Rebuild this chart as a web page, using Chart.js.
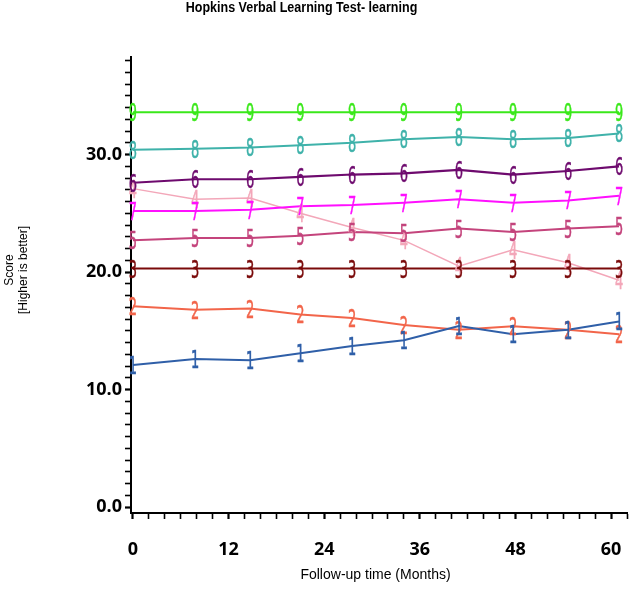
<!DOCTYPE html>
<html>
<head>
<meta charset="utf-8">
<script src="https://cdn.jsdelivr.net/npm/chart.js@4"></script>
<style>
html,body{margin:0;padding:0;background:#fff;}
#wrap{width:631px;height:599px;position:relative;}
</style>
</head>
<body>
<div id="wrap"><canvas id="c" width="631" height="599"></canvas></div>
<script>
// ---- data ----
const months = [0, 7.8, 14.7, 21, 27.5, 34, 40.9, 47.7, 54.6, 61];
const groupLabels = ['1','2','3','4','5','6','7','8','9'];
const s1 = [12.1, 12.6, 12.5, 13.1, 13.7, 14.2, 15.4, 14.7, 15.1, 15.8];
const s2 = [17.1, 16.8, 16.9, 16.4, 16.1, 15.5, 15.1, 15.4, 15.1, 14.7];
const s3 = [20.3, 20.3, 20.3, 20.3, 20.3, 20.3, 20.3, 20.3, 20.3, 20.3];
const s4 = [27.1, 26.2, 26.3, 25.0, 23.8, 22.7, 20.5, 21.9, 20.8, 19.3];
const s5 = [22.7, 22.9, 22.9, 23.1, 23.4, 23.3, 23.7, 23.4, 23.7, 23.9];
const s6 = [27.6, 27.9, 27.9, 28.1, 28.3, 28.4, 28.7, 28.3, 28.6, 29.0];
const s7 = [25.2, 25.2, 25.3, 25.6, 25.7, 25.9, 26.2, 25.9, 26.1, 26.5];
const s8 = [30.4, 30.5, 30.6, 30.8, 31.0, 31.3, 31.5, 31.3, 31.4, 31.8];
const s9 = [33.6, 33.6, 33.6, 33.6, 33.6, 33.6, 33.6, 33.6, 33.6, 33.6];
const titleText = 'Hopkins Verbal Learning Test- learning';
const yTitle = ['Score', '[Higher is better]'];
const xTitle = 'Follow-up time (Months)';

const seriesList = [s1, s2, s3, s4, s5, s6, s7, s8, s9];
const colors = ['#2f5fa8', '#f2654a', '#7a0a0a', '#f3a7b9', '#c4447c', '#6e0a6e', '#ff10ff', '#3fb2aa', '#3ae81a'];
const widths = [2, 2, 2, 1.5, 2, 2.2, 2, 2, 2];
// draw order: pink '4' beneath all
const drawOrder = [0, 1, 2, 4, 5, 6, 7, 8, 3];

const datasets = drawOrder.map(i => ({
  label: groupLabels[i],
  data: months.map((m, k) => ({x: m, y: seriesList[i][k]})),
  borderColor: colors[i],
  backgroundColor: colors[i],
  borderWidth: widths[i],
  pointRadius: 0,
  pointHoverRadius: 0,
  tension: 0,
  fill: false,
  clip: false
}));

const markerPlugin = {
  id: 'markers',
  afterDatasetsDraw(chart) {
    const ctx = chart.ctx;
    const metas = chart.getSortedVisibleDatasetMetas();
    for (let d = metas.length - 1; d >= 0; d--) {
      const meta = metas[d];
      const ds = chart.data.datasets[meta.index];
      ctx.save();
      ctx.fillStyle = ds.borderColor;
      ctx.strokeStyle = ds.borderColor;
      ctx.lineWidth = 0.6;
      ctx.font = '25px "DejaVu Sans"';
      ctx.textAlign = 'center';
      ctx.textBaseline = 'alphabetic';
      meta.data.forEach(pt => {
        ctx.save();
        ctx.translate(pt.x, pt.y + 25 * 0.36);
        ctx.scale(0.52, 1);
        ctx.fillText(ds.label, 0, 0);
        ctx.strokeText(ds.label, 0, 0);
        ctx.restore();
      });
      ctx.restore();
    }
  }
};

const textPlugin = {
  id: 'texts',
  afterDraw(chart) {
    const ctx = chart.ctx;
    ctx.save();
    ctx.fillStyle = '#000';
    ctx.font = 'bold 14px "Liberation Sans", Arial, sans-serif';
    ctx.textAlign = 'center';
    ctx.textBaseline = 'alphabetic';
    ctx.save();
    ctx.translate(301.5, 12);
    ctx.scale(0.895, 1);
    ctx.fillText(titleText, 0, 0);
    ctx.restore();
    ctx.font = '14px "Liberation Sans", Arial, sans-serif';
    ctx.fillText(xTitle, 375.5, 579);
    ctx.font = '12px "Liberation Sans", Arial, sans-serif';
    ctx.save();
    ctx.translate(0, 270);
    ctx.rotate(-Math.PI / 2);
    ctx.textBaseline = 'middle';
    ctx.fillText(yTitle[0], 0, 10);
    ctx.fillText(yTitle[1], 0, 24);
    ctx.restore();
    ctx.restore();
  }
};

const tickFont = {family: '"Open Sans", "DejaVu Sans", sans-serif', size: 18, weight: 'bold'};

new Chart(document.getElementById('c'), {
  type: 'line',
  data: {datasets},
  options: {
    responsive: false,
    animation: false,
    events: [],
    layout: {padding: {top: 57, right: 4, left: 0, bottom: 0}},
    plugins: {legend: {display: false}, title: {display: false}, tooltip: {enabled: false}},
    scales: {
      x: {
        type: 'linear',
        min: -0.25,
        max: 62,
        afterFit(scale) { scale.height = 86; scale.paddingLeft = 0; scale.paddingRight = 0; },
        border: {display: true, color: '#000', width: 2},
        grid: {
          drawOnChartArea: false,
          drawTicks: true,
          tickLength: 6,
          tickColor: '#000',
          tickWidth: ctx => (ctx.tick && ctx.tick.value % 12 === 0) ? 2.2 : 1.6
        },
        ticks: {
          stepSize: 2,
          includeBounds: false,
          autoSkip: false,
          maxRotation: 0,
          padding: 20,
          color: '#000',
          font: tickFont,
          callback: v => (Math.abs(v % 12) < 1e-6) ? String(Math.round(v)) : ''
        }
      },
      y: {
        type: 'linear',
        min: -0.5,
        max: 38.3,
        afterFit(scale) { scale.width = 131; scale.paddingTop = 0; scale.paddingBottom = 0; },
        border: {display: true, color: '#000', width: 2},
        grid: {
          drawOnChartArea: false,
          drawTicks: true,
          tickLength: 6,
          tickColor: '#000',
          tickWidth: ctx => (ctx.tick && ctx.tick.value % 10 === 0) ? 2.2 : 1.6
        },
        ticks: {
          stepSize: 1,
          includeBounds: false,
          autoSkip: false,
          padding: 3,
          color: '#000',
          font: tickFont,
          callback: v => (Math.abs(v % 10) < 1e-6) ? v.toFixed(1) : ''
        }
      }
    }
  },
  plugins: [markerPlugin, textPlugin]
});
</script>
</body>
</html>
